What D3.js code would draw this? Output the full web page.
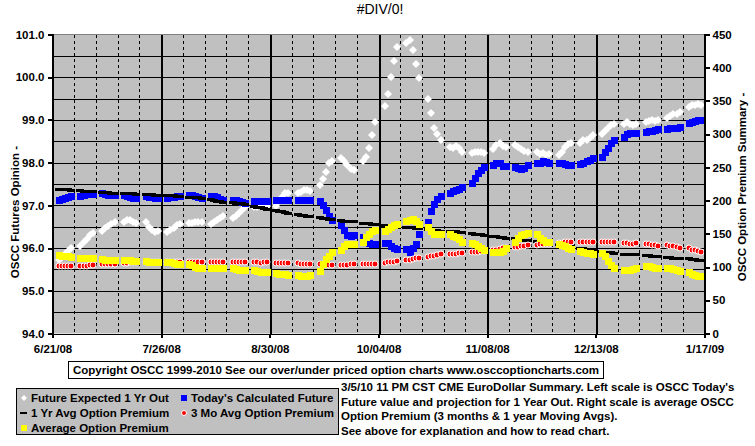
<!DOCTYPE html>
<html>
<head>
<meta charset="utf-8">
<script src="https://cdn.jsdelivr.net/npm/d3@7"></script>
<style>
  body { margin: 0; background: #fff; }
  svg text { font-family: "Liberation Sans", Arial, sans-serif; font-weight: bold; }
</style>
</head>
<body>
<script>
// canvas size
var width = 755;
var height = 446;

// first and last day on the date axis, labelled every 35 days
var startDay = new Date(2008, 5, 21);
var endDay = new Date(2009, 0, 17);
var firstTrade = new Date(2008, 5, 23);
var tradeWeeks = 30;

// left scale ticks and right scale ticks
var leftTicks = [94, 95, 96, 97, 98, 99, 100, 101];
var rightTicks = [0, 50, 100, 150, 200, 250, 300, 350, 400, 450];

// Future Expected 1 Yr Out (left scale), five trading days per row
var futureExpected = [
  95.71, 95.78, 95.86, 95.93, 96.00,
  96.06, 96.14, 96.22, 96.30, 96.36,
  96.40, 96.46, 96.52, 96.56, 96.60,
  96.60, 96.65, 96.65, 96.62, 96.58,
  96.60, 96.50, 96.42, 96.38, 96.40,
  96.37, 96.42, 96.48, 96.53, 96.57,
  96.58, 96.58, 96.60, 96.60, 96.60,
  96.57, 96.60, 96.65, 96.70, 96.75,
  96.70, 96.76, 96.82, 96.90, 96.97,
  96.95, 96.97, 96.98, 97.00, 96.98,
  96.98, 97.10, 97.20, 97.28, 97.30,
  97.30, 97.32, 97.35, 97.35, 97.33,
  97.48, 97.62, 97.78, 98.00, 98.04,
  98.12, 98.05, 97.95, 97.86, 97.82,
  98.05, 98.14, 98.35, 98.64, 98.96,
  99.33, 99.60, 100.00, 100.37, 100.70,
  100.81, 100.86, 100.63, 100.32, 99.99,
  99.50, 99.17, 98.82, 98.68, 98.52,
  98.36, 98.35, 98.38, 98.35, 98.26,
  98.22, 98.24, 98.25, 98.24, 98.23,
  98.33, 98.42, 98.47, 98.40, 98.36,
  98.42, 98.36, 98.33, 98.28, 98.26,
  98.24, 98.21, 98.22, 98.19, 98.21,
  98.19, 98.26, 98.36, 98.44, 98.45,
  98.47, 98.52, 98.53, 98.58, 98.64,
  98.66, 98.75, 98.82, 98.87, 98.91,
  98.91, 98.94, 98.91, 98.87, 98.91,
  98.94, 98.98, 99.00, 98.97, 99.00,
  99.05, 99.10, 99.13, 99.15, 99.18,
  99.30, 99.35, 99.35, 99.38, 99.36
];

// Today's Calculated Future (left scale)
var todaysFuture = [
  97.12, 97.16, 97.18, 97.20, 97.22,
  97.22, 97.25, 97.27, 97.28, 97.27,
  97.28, 97.27, 97.25, 97.25, 97.24,
  97.24, 97.22, 97.20, 97.18, 97.18,
  97.22, 97.20, 97.20, 97.18, 97.17,
  97.17, 97.20, 97.20, 97.22, 97.22,
  97.24, 97.24, 97.22, 97.20, 97.18,
  97.22, 97.22, 97.20, 97.16, 97.12,
  97.12, 97.12, 97.10, 97.08, 97.06,
  97.10, 97.10, 97.10, 97.10, 97.10,
  97.12, 97.12, 97.12, 97.12, 97.12,
  97.12, 97.12, 97.12, 97.12, 97.12,
  97.10, 97.00, 96.88, 96.74, 96.65,
  96.55, 96.43, 96.30, 96.28, 96.30,
  96.27, 96.18, 96.13, 96.10, 96.10,
  96.12, 96.12, 96.06, 95.99, 95.97,
  95.97, 95.90, 95.99, 96.10, 96.32,
  96.60, 96.86, 97.04, 97.14, 97.23,
  97.28, 97.33, 97.37, 97.38, 97.44,
  97.53, 97.65, 97.75, 97.82, 97.89,
  97.95, 97.98, 97.98, 97.93, 97.92,
  97.90, 97.88, 97.86, 97.88, 97.95,
  97.98, 98.00, 98.03, 98.02, 98.00,
  97.98, 97.98, 97.96, 97.94, 97.95,
  97.96, 98.00, 98.05, 98.07, 98.10,
  98.14, 98.26, 98.35, 98.45, 98.54,
  98.60, 98.68, 98.70, 98.70, 98.70,
  98.72, 98.74, 98.75, 98.77, 98.78,
  98.79, 98.80, 98.80, 98.82, 98.83,
  98.92, 98.96, 98.98, 99.00, 99.00
];

// 1 Yr Avg Option Premium (right scale)
var yearAvgPremium = [
  218, 218, 217, 217, 216,
  216, 215, 215, 214, 214,
  213, 213, 213, 212, 212,
  212, 211, 211, 211, 210,
  210, 210, 210, 209, 209,
  209, 208, 208, 207, 207,
  206, 206, 205, 205, 204,
  202, 201, 200, 199, 198,
  198, 197, 197, 196, 195,
  192, 191, 190, 189, 188,
  186, 185, 184, 183, 182,
  180, 179, 178, 177, 177,
  175, 174, 174, 173, 173,
  171, 170, 170, 169, 169,
  167, 167, 166, 165, 165,
  163, 163, 162, 162, 161,
  161, 160, 160, 159, 159,
  157, 157, 156, 156, 155,
  155, 154, 154, 153, 153,
  151, 150, 149, 149, 148,
  146, 146, 145, 145, 144,
  143, 142, 142, 141, 141,
  139, 139, 138, 138, 137,
  135, 134, 133, 132, 131,
  129, 128, 127, 126, 125,
  124, 123, 122, 122, 121,
  120, 120, 120, 119, 119,
  118, 118, 117, 117, 116,
  115, 115, 114, 114, 113,
  113, 112, 112, 111, 111
];

// 3 Mo Avg Option Premium (right scale)
var threeMoAvgPremium = [
  101, 101, 102, 102, 102,
  102, 102, 102, 103, 103,
  104, 104, 104, 105, 105,
  106, 106, 107, 107, 107,
  108, 108, 108, 108, 108,
  108, 108, 108, 108, 108,
  108, 108, 108, 108, 108,
  108, 108, 108, 108, 108,
  108, 108, 107, 107, 107,
  107, 107, 106, 107, 107,
  106, 106, 106, 106, 106,
  106, 105, 105, 105, 105,
  104, 104, 103, 103, 103,
  103, 103, 103, 104, 104,
  104, 104, 105, 105, 105,
  106, 107, 107, 108, 109,
  110, 111, 112, 113, 114,
  115, 116, 117, 118, 119,
  119, 120, 120, 121, 121,
  122, 123, 123, 124, 124,
  125, 126, 127, 128, 129,
  130, 130, 131, 132, 133,
  133, 134, 135, 135, 135,
  136, 136, 137, 137, 137,
  137, 137, 137, 137, 137,
  138, 138, 138, 138, 138,
  136, 136, 135, 135, 136,
  134, 134, 133, 133, 131,
  133, 132, 131, 130, 128,
  128, 126, 125, 124, 122
];

// Average Option Premium (right scale)
var avgPremium = [
  118, 117, 116, 116, 115,
  114, 114, 113, 113, 113,
  112, 111, 110, 110, 110,
  110, 110, 110, 109, 109,
  109, 108, 107, 107, 107,
  107, 107, 106, 105, 104,
  105, 103, 100, 99, 99,
  98, 98, 98, 98, 98,
  98, 97, 96, 96, 95,
  95, 94, 93, 92, 92,
  91, 90, 89, 89, 88,
  88, 87, 87, 87, 88,
  94, 104, 112, 117, 122,
  125, 131, 134, 134, 134,
  138, 145, 150, 154, 156,
  155, 158, 161, 164, 165,
  170, 171, 172, 170, 165,
  160, 154, 150, 149, 149,
  149, 147, 145, 142, 138,
  136, 134, 131, 129, 126,
  123, 122, 122, 124, 128,
  138, 144, 148, 150, 151,
  150, 144, 140, 138, 138,
  134, 133, 131, 129, 127,
  124, 122, 121, 121, 120,
  121, 116, 109, 103, 99,
  95, 95, 96, 97, 99,
  101, 101, 100, 99, 99,
  99, 98, 97, 95, 94,
  92, 90, 88, 87, 87
];

// legend entries and notes
var legendItems = [
  { name: "Future Expected 1 Yr Out", mark: "diamond", col: 0, row: 0 },
  { name: "Today's Calculated Future", mark: "blue", col: 1, row: 0 },
  { name: "1 Yr Avg Option Premium", mark: "dash", col: 0, row: 1 },
  { name: "3 Mo Avg Option Premium", mark: "dot", col: 1, row: 1 },
  { name: "Average Option Premium", mark: "yellow", col: 0, row: 2 }
];
var noteLines = [
  "3/5/10 11 PM CST CME EuroDollar Summary. Left scale is OSCC Today's",
  "Future value and projection for 1 Year Out. Right scale is average OSCC",
  "Option Premium (3 months & 1 year Moving  Avgs).",
  "See above for explanation and how to read chart."
];

// trading days, monday to friday
var days = [];
for (var w = 0; w < tradeWeeks; w++) {
  for (var d = 0; d < 5; d++) {
    days.push(d3.timeDay.offset(firstTrade, w * 7 + d));
  }
}

var svg = d3.select('body').append('svg')
  .attr('width', width)
  .attr('height', height);

// plot box edges (window.top is taken, so own names)
var plotL = 52.5, plotR = 704.5, plotT = 34.5, plotB = 333.5;
var fontSize = '11.5px';

var x = d3.scaleTime().domain([startDay, endDay]).range([plotL, plotR]);
var yL = d3.scaleLinear().domain([94, 101]).range([plotB, plotT]);
var yR = d3.scaleLinear().domain([0, 450]).range([plotB, plotT]);

// plot background
svg.append('rect')
  .attr('x', plotL).attr('y', plotT)
  .attr('width', plotR - plotL).attr('height', plotB - plotT)
  .attr('fill', '#c0c0c0');

var grid = svg.append('g').attr('shape-rendering', 'crispEdges');

// horizontal grid every half point
grid.selectAll('line.h')
  .data(d3.range(94.5, 101, 0.5))
  .enter().append('line')
  .attr('x1', plotL).attr('x2', plotR)
  .attr('y1', function(d) { return Math.round(yL(d)) + 0.5; })
  .attr('y2', function(d) { return Math.round(yL(d)) + 0.5; })
  .attr('stroke', '#000');

// weekly dashed lines, every fifth one solid
var weeks = d3.range(1, 30).map(function(i) { return d3.timeDay.offset(startDay, i * 7); });

grid.selectAll('line.v')
  .data(weeks)
  .enter().append('line')
  .attr('x1', function(d) { return Math.round(x(d)) + 0.5; })
  .attr('x2', function(d) { return Math.round(x(d)) + 0.5; })
  .attr('y1', plotT).attr('y2', plotB)
  .attr('stroke', '#000')
  .attr('stroke-width', function(d, i) { return (i + 1) % 5 === 0 ? 2 : 1; })
  .attr('stroke-dasharray', function(d, i) { return (i + 1) % 5 === 0 ? null : '3,3'; });

// top border
grid.append('line')
  .attr('x1', plotL).attr('x2', plotR)
  .attr('y1', plotT).attr('y2', plotT)
  .attr('stroke', '#808080');

// series marks, drawn in legend order
var marks = svg.append('g').attr('shape-rendering', 'crispEdges');

marks.selectAll('path.fe')
  .data(futureExpected)
  .enter().append('path')
  .attr('d', function(v, i) {
    var cx = Math.round(x(days[i])), cy = Math.round(yL(v));
    return 'M' + cx + ',' + (cy - 4) + 'L' + (cx + 4) + ',' + cy + 'L' + cx + ',' + (cy + 4) + 'L' + (cx - 4) + ',' + cy + 'Z';
  })
  .attr('fill', '#fff')
  .attr('shape-rendering', 'auto');

marks.selectAll('rect.tf')
  .data(todaysFuture)
  .enter().append('rect')
  .attr('x', function(v, i) { return Math.round(x(days[i])) - 3.5; })
  .attr('y', function(v) { return Math.round(yL(v)) - 3.5; })
  .attr('width', 7).attr('height', 7)
  .attr('fill', '#0000ff');

marks.selectAll('rect.ya')
  .data(yearAvgPremium)
  .enter().append('rect')
  .attr('x', function(v, i) { return Math.round(x(days[i])) - 4; })
  .attr('y', function(v) { return Math.round(yR(v)) - 1.5; })
  .attr('width', 8).attr('height', 3)
  .attr('fill', '#000');

marks.selectAll('circle.tm')
  .data(threeMoAvgPremium)
  .enter().append('circle')
  .attr('cx', function(v, i) { return Math.round(x(days[i])); })
  .attr('cy', function(v) { return Math.round(yR(v)); })
  .attr('r', 3)
  .attr('fill', '#ff0000')
  .attr('stroke', '#fff')
  .attr('stroke-width', 1)
  .attr('shape-rendering', 'auto');

marks.selectAll('rect.ap')
  .data(avgPremium)
  .enter().append('rect')
  .attr('x', function(v, i) { return Math.round(x(days[i])) - 3.5; })
  .attr('y', function(v) { return Math.round(yR(v)) - 3.5; })
  .attr('width', 7).attr('height', 7)
  .attr('fill', '#ffff00');

// axes
var axisL = svg.append('g')
  .attr('transform', 'translate(' + plotL + ',0)')
  .call(d3.axisLeft(yL).tickValues(leftTicks).tickFormat(d3.format('.1f')).tickSize(5).tickPadding(3));
var axisR = svg.append('g')
  .attr('transform', 'translate(' + plotR + ',0)')
  .call(d3.axisRight(yR).tickValues(rightTicks).tickSize(5).tickPadding(3));
var axisB = svg.append('g')
  .attr('transform', 'translate(0,' + plotB + ')')
  .call(d3.axisBottom(x)
    .tickValues(d3.range(0, 7).map(function(i) { return d3.timeDay.offset(startDay, i * 35); }))
    .tickFormat(d3.timeFormat('%-m/%d/%y')).tickSize(4).tickPadding(7));

[axisL, axisR, axisB].forEach(function(a) {
  a.attr('shape-rendering', 'crispEdges');
  a.select('.domain').attr('stroke', '#000').attr('stroke-width', 2);
  a.selectAll('.tick line').attr('stroke', '#000').attr('stroke-width', 2);
  a.selectAll('text').attr('fill', '#000').style('font-size', fontSize)
    .style('font-family', '"Liberation Sans", Arial, sans-serif').style('font-weight', 'bold');
});
axisB.select('.domain').attr('stroke-width', 1);

// title
svg.append('text')
  .attr('x', 380).attr('y', 14)
  .attr('text-anchor', 'middle')
  .style('font-size', '14px').style('font-weight', 'normal')
  .text('#DIV/0!');

// axis titles
svg.append('text')
  .attr('transform', 'translate(19,212) rotate(-90)')
  .attr('text-anchor', 'middle')
  .style('font-size', fontSize)
  .text('OSCC Futures Opinion -');
svg.append('text')
  .attr('transform', 'translate(746,187) rotate(-90)')
  .attr('text-anchor', 'middle')
  .style('font-size', fontSize)
  .text('OSCC Option Premium Summary -');

// copyright box
svg.append('rect')
  .attr('x', 68.5).attr('y', 361.5)
  .attr('width', 535).attr('height', 17)
  .attr('fill', '#fff').attr('stroke', '#000');
svg.append('text')
  .attr('x', 336).attr('y', 374)
  .attr('text-anchor', 'middle')
  .style('font-size', fontSize)
  .text('Copyright OSCC 1999-2010 See our over/under priced option charts www.osccoptioncharts.com');

// legend
var legend = svg.append('g');
legend.append('rect')
  .attr('x', 16.5).attr('y', 388.5)
  .attr('width', 322).attr('height', 46)
  .attr('fill', '#c0c0c0').attr('stroke', '#000');

var item = legend.selectAll('g.item')
  .data(legendItems)
  .enter().append('g')
  .attr('transform', function(d) { return 'translate(' + (d.col ? 184 : 24) + ',' + (398 + d.row * 15) + ')'; });

item.each(function(d) {
  var g = d3.select(this);
  if (d.mark === 'diamond') {
    g.append('path').attr('d', 'M0,-3L3,0L0,3L-3,0Z').attr('fill', '#fff');
  } else if (d.mark === 'blue') {
    g.append('rect').attr('x', -3).attr('y', -3).attr('width', 6).attr('height', 6).attr('fill', '#0000ff');
  } else if (d.mark === 'dash') {
    g.append('rect').attr('x', -4).attr('y', -1).attr('width', 7).attr('height', 2).attr('fill', '#000');
  } else if (d.mark === 'dot') {
    g.append('circle').attr('r', 2.5).attr('fill', '#ff0000').attr('stroke', '#fff');
  } else {
    g.append('rect').attr('x', -3).attr('y', -3).attr('width', 6).attr('height', 6).attr('fill', '#ffff00');
  }
  g.append('text')
    .attr('x', 7).attr('y', 4)
    .style('font-size', fontSize)
    .text(d.name);
});

// notes on the right of the legend
svg.selectAll('text.note')
  .data(noteLines)
  .enter().append('text')
  .attr('x', 341)
  .attr('y', function(d, i) { return 391 + i * 14.5; })
  .style('font-size', fontSize)
  .text(function(d) { return d; });
</script>
</body>
</html>
